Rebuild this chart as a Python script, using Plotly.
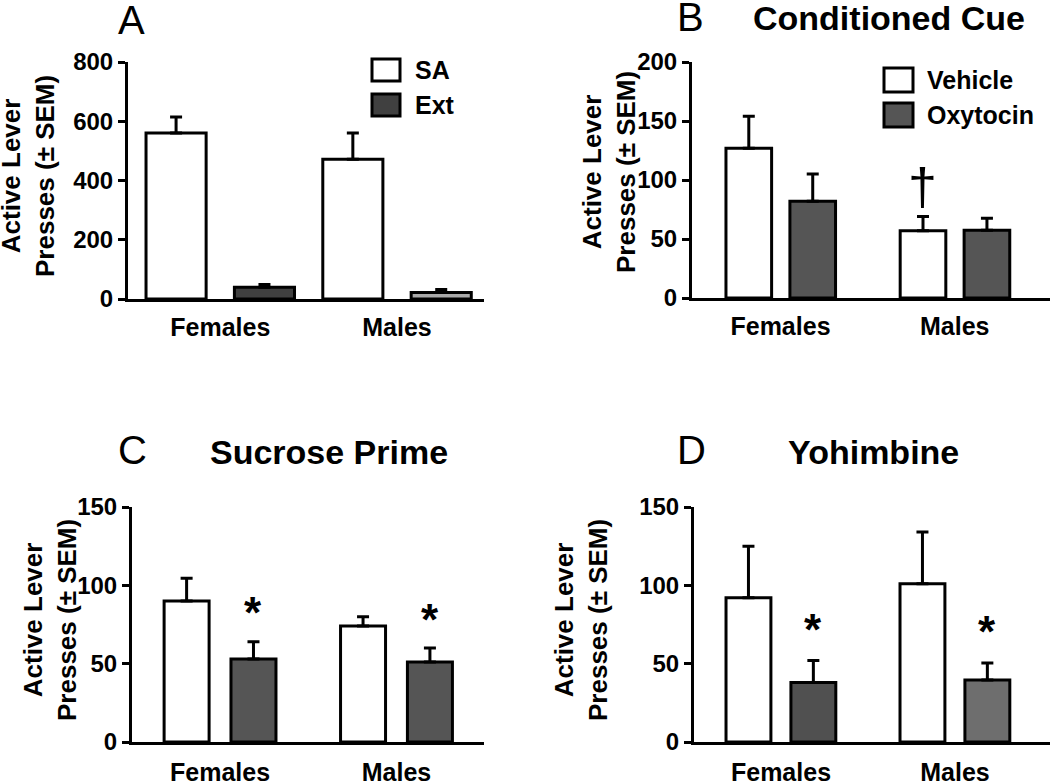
import plotly.graph_objects as go

W, H = 1050, 781
FONT = "Liberation Sans, Arial, Helvetica, sans-serif"

# ---------------- data ----------------
categories = ["Females", "Males"]

a_sa = [560, 472]
a_sa_err = [54, 88]
a_ext = [40, 22]
a_ext_err = [9, 10]

b_vehicle = [127, 57]
b_vehicle_err = [27, 12]
b_oxytocin = [82, 57.5]
b_oxytocin_err = [23, 10]

c_vehicle = [90, 74]
c_vehicle_err = [14.5, 6]
c_oxytocin = [53, 51]
c_oxytocin_err = [11, 9]

d_vehicle = [92, 101]
d_vehicle_err = [33, 33]
d_oxytocin = [38, 39.5]
d_oxytocin_err = [14, 11]

a_ticks = [0, 200, 400, 600, 800]
b_ticks = [0, 50, 100, 150, 200]
cd_ticks = [0, 50, 100, 150]

panel_letters = ["A", "B", "C", "D"]
panel_titles = ["", "Conditioned Cue", "Sucrose Prime", "Yohimbine"]
legend_a = ["SA", "Ext"]
legend_b = ["Vehicle", "Oxytocin"]
y_title = "Active Lever<br>Presses (± SEM)"


def px(x):
    return x / W


def py(y):
    return 1 - y / H


fig = go.Figure()

# panel layout: (axis suffix, x px range, y px range, x range, y range, ticks, bar offsets/width)
panels = [
    ("", (128, 484), (62, 299), [-0.522, 1.492], [0, 800], a_ticks, (-0.42, 0.08, 0.34)),
    ("2", (692, 1050), (62, 298), [-0.508, 1.547], [0, 200], b_ticks, (-0.313, 0.054, 0.262)),
    ("3", (132, 484), (507, 742), [-0.499, 1.496], [0, 150], cd_ticks, (-0.317, 0.062, 0.255)),
    ("4", (694, 1050), (507, 742), [-0.5, 1.546], [0, 150], cd_ticks, (-0.316, 0.057, 0.258)),
]

series = [
    ((a_sa, a_sa_err, ["white", "white"]), (a_ext, a_ext_err, ["#404040", "#a9a9a9"])),
    ((b_vehicle, b_vehicle_err, ["white", "white"]), (b_oxytocin, b_oxytocin_err, ["#555555", "#555555"])),
    ((c_vehicle, c_vehicle_err, ["white", "white"]), (c_oxytocin, c_oxytocin_err, ["#555555", "#555555"])),
    ((d_vehicle, d_vehicle_err, ["white", "white"]), (d_oxytocin, d_oxytocin_err, ["#505050", "#6e6e6e"])),
]

layout_axes = {}
for (suf, xpx, ypx, xr, yr, ticks, (off1, off2, bw)), (s1, s2) in zip(panels, series):
    xa = "x" + suf
    ya = "y" + suf
    for (vals, err, cols), off in ((s1, off1), (s2, off2)):
        fig.add_trace(go.Bar(
            x=categories, y=vals, offset=off, width=bw,
            marker=dict(color=cols, line=dict(color="black", width=3)),
            error_y=dict(type="data", array=err, arrayminus=[0] * len(err), symmetric=False,
                         color="black", thickness=3, width=6),
            xaxis=xa, yaxis=ya, showlegend=False, cliponaxis=False, hoverinfo="skip",
        ))
    layout_axes["xaxis" + suf] = dict(
        domain=[px(xpx[0]), px(xpx[1])], range=xr, anchor=ya, type="category",
        showline=True, linecolor="black", linewidth=3, ticks="", showgrid=False,
        zeroline=False, automargin=False,
        ticklabelstandoff=4 if suf in ("", "2") else 6,
        tickfont=dict(family=FONT, size=25, color="black", weight="bold"),
        fixedrange=True,
    )
    layout_axes["yaxis" + suf] = dict(
        domain=[py(ypx[1]), py(ypx[0])], range=yr, anchor=xa, automargin=False,
        showline=True, linecolor="black", linewidth=3, ticks="outside", ticklen=7,
        tickwidth=3, tickcolor="black", tickvals=ticks, showgrid=False, zeroline=False,
        tickfont=dict(family=FONT, size=24, color="black", weight="bold"),
        fixedrange=True,
    )

annotations = []
# panel letters and titles
letter_pos = [(131, 20), (690, 17), (132, 450), (692, 450)]
title_pos = [(None, None), (889, 18), (329, 452), (873, 452)]
for letter, (lx, ly), title, (tx, ty) in zip(panel_letters, letter_pos, panel_titles, title_pos):
    annotations.append(dict(text=letter, x=px(lx), y=py(ly), xref="paper", yref="paper",
                            showarrow=False, xanchor="center", yanchor="middle",
                            font=dict(family=FONT, size=40, color="black")))
    if title:
        annotations.append(dict(text=title, x=px(tx), y=py(ty), xref="paper", yref="paper",
                                showarrow=False, xanchor="center", yanchor="middle",
                                font=dict(family=FONT, size=34, color="black", weight="bold")))

# y axis titles
ytitle_pos = [(28, 176), (609, 172), (50, 620), (581, 620)]
for (tx, ty) in ytitle_pos:
    annotations.append(dict(text=y_title, x=px(tx), y=py(ty), xref="paper", yref="paper",
                            showarrow=False, textangle=-90, xanchor="center", yanchor="middle",
                            font=dict(family=FONT, size=26, color="black", weight="bold")))

# significance markers (placed above the error bars)
def mark(text, xa, ya, idx, vals, err, off, bw, shift, size, weight):
    annotations.append(dict(text=text, x=idx + off + bw / 2, y=vals[idx] + err[idx],
                            xref=xa, yref=ya, showarrow=False, xanchor="center",
                            yanchor="middle", yshift=shift,
                            font=dict(family=FONT, size=size, color="black", weight=weight)))

mark("†", "x2", "y2", 1, b_vehicle, b_vehicle_err, -0.313, 0.262, 30, 52, "normal")
for i in range(2):
    mark("*", "x3", "y3", i, c_oxytocin, c_oxytocin_err, 0.062, 0.255, 29, 44, "bold")
    mark("*", "x4", "y4", i, d_oxytocin, d_oxytocin_err, 0.057, 0.258, 31, 44, "bold")

# legends (drawn boxes + text)
shapes = []
leg_a = [((372, 400), (59, 81), "white"), ((372, 400), (94, 116), "#404040")]
for name, ((x0, x1), (y0, y1), col) in zip(legend_a, leg_a):
    shapes.append(dict(type="rect", xref="paper", yref="paper", x0=px(x0), x1=px(x1),
                       y0=py(y1), y1=py(y0), fillcolor=col, line=dict(color="black", width=3)))
    annotations.append(dict(text=name, x=px(413), y=py((y0 + y1) / 2), xref="paper", yref="paper",
                            showarrow=False, xanchor="left", yanchor="middle",
                            font=dict(family=FONT, size=25, color="black", weight="bold")))
leg_b = [((884, 913), (68, 92), "white"), ((884, 913), (103, 127), "#555555")]
for name, ((x0, x1), (y0, y1), col) in zip(legend_b, leg_b):
    shapes.append(dict(type="rect", xref="paper", yref="paper", x0=px(x0), x1=px(x1),
                       y0=py(y1), y1=py(y0), fillcolor=col, line=dict(color="black", width=3)))
    annotations.append(dict(text=name, x=px(925), y=py((y0 + y1) / 2), xref="paper", yref="paper",
                            showarrow=False, xanchor="left", yanchor="middle",
                            font=dict(family=FONT, size=25, color="black", weight="bold")))

fig.update_layout(
    width=W, height=H,
    margin=dict(l=0, r=0, t=0, b=0, autoexpand=False),
    paper_bgcolor="white", plot_bgcolor="white",
    barmode="overlay",
    showlegend=False,
    hovermode=False,
    annotations=annotations,
    shapes=shapes,
    font=dict(family=FONT, color="black"),
    **layout_axes,
)

fig.write_html(
    "out.html",
    config={"displayModeBar": False, "staticPlot": True},
    post_script="document.body.style.margin='0px';document.body.style.overflow='hidden';",
)
